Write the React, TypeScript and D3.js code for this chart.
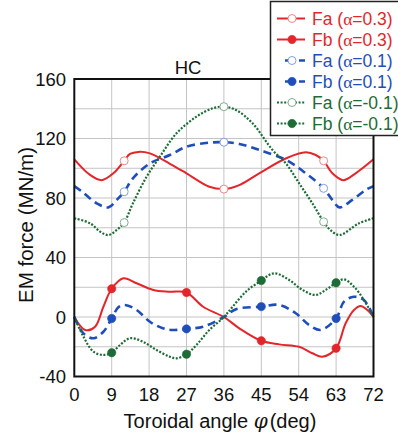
import React, { useEffect, useRef } from 'react';
import * as d3 from 'd3';

// Angles (deg) and values (MN/m)
const faAngles03 = [0, 3.8, 6.6, 9.4, 12, 13.4, 15.4, 18.2, 23, 27, 32.5, 36, 39.7, 44.5, 51, 55.7, 58.1, 60, 62.1, 64.7, 67.7, 72];
const faValues03 = [106, 95.5, 92, 96.6, 105, 109.6, 111, 110, 103, 96.6, 87.6, 86, 88.7, 96.6, 106.7, 110.7, 108.9, 105, 96.6, 92, 96.6, 106];

const faAngles01 = [0, 2, 5.4, 8.2, 10.2, 12, 14.1, 18.2, 23, 27, 32.5, 36, 39.7, 44.5, 51, 55.7, 60, 62.1, 63.8, 66.9, 70.1, 72];
const faValues01 = [88, 84, 76.4, 73.7, 78.7, 84.2, 93.2, 103.3, 108.9, 114.5, 117.2, 117.5, 116.3, 112.3, 105.5, 96.6, 86.5, 78.7, 73.7, 78.7, 85.4, 88];

const faAnglesM01 = [0, 3.8, 6.2, 8.2, 10.2, 12, 14.1, 17.4, 20.6, 24.6, 29.4, 33.3, 36, 38.9, 42.9, 47.7, 50.9, 54.1, 57.3, 60, 61.6, 63.8, 68.5, 72];
const faValuesM01 = [66.4, 63, 57.4, 55.1, 58.5, 63.5, 76.4, 94.3, 107.8, 123.5, 134.7, 140.3, 141.4, 139.2, 130.2, 112.3, 103.3, 89.9, 76.4, 64, 58.5, 55.1, 63, 66.4];

const fbAngles03 = [0, 2.6, 5, 7, 9, 11.8, 15, 19, 23, 27, 31, 36, 39.7, 45, 49.3, 54.1, 57.3, 59.7, 63, 65.3, 67.3, 68.9, 70.5, 72];
const fbValues03 = [0, -8.7, -6.5, 6.9, 19, 26, 22.7, 18.2, 17, 16.5, 6.9, 0, -7.6, -16, -18.4, -20, -24.4, -26.7, -21, -4.2, 4.7, 7.4, 4.7, 0];

const fbAngles01 = [0, 2.2, 4.6, 7, 9, 10.6, 12.2, 15, 18.2, 21.3, 23.7, 27, 31, 36, 38.9, 45, 49.3, 53.3, 56.5, 59.3, 63, 64.9, 67.3, 69.7, 72];
const fbValues01 = [0, -11, -14.3, -9.9, -1, 6.5, 8.1, 4.7, -3.2, -7.6, -8.7, -8, -6.5, 0, 5.2, 7, 8.1, 2.5, -5.4, -8.7, -1, 10.3, 13.6, 11.4, 0];

const fbAnglesM01 = [0, 2.2, 4.6, 7, 9, 11, 13.4, 16.5, 19.8, 23, 24.6, 27, 29.4, 32.5, 36, 38.1, 41.3, 45, 48.1, 51.7, 54.9, 58.1, 60.5, 63, 64.9, 67.3, 69.7, 72];
const fbValuesM01 = [0, -13.2, -23.3, -25.5, -24, -18.8, -14.3, -16.6, -22.2, -26.7, -27.8, -25, -18.8, -8.7, 0, 6.9, 17, 24.5, 29.4, 24.9, 18.2, 14.8, 18.2, 23, 25.3, 20.4, 11.4, 0];

const faMarkerAngles = [12, 36, 60];
const fbMarkerAngles = [9, 27, 45, 63];

const xTicks = [0, 9, 18, 27, 36, 45, 54, 63, 72];
const yTicks = [-40, 0, 40, 80, 120, 160];
const yGrid = [-20, 20, 60, 100, 140];

const RED = '#e3262b';
const BLUE = '#1f4ebb';
const GREEN = '#1d6b36';

const series = [
  { name: 'Fa', alpha: '0.3', angles: faAngles03, values: faValues03, color: RED, dash: null, width: 2, open: true, marks: faMarkerAngles },
  { name: 'Fb', alpha: '0.3', angles: fbAngles03, values: fbValues03, color: RED, dash: null, width: 2, open: false, marks: fbMarkerAngles },
  { name: 'Fa', alpha: '0.1', angles: faAngles01, values: faValues01, color: BLUE, dash: '8,5', width: 2.6, open: true, marks: faMarkerAngles },
  { name: 'Fb', alpha: '0.1', angles: fbAngles01, values: fbValues01, color: BLUE, dash: '8,5', width: 2.6, open: false, marks: fbMarkerAngles },
  { name: 'Fa', alpha: '-0.1', angles: faAnglesM01, values: faValuesM01, color: GREEN, dash: '2,1.6', width: 2.2, open: true, marks: faMarkerAngles },
  { name: 'Fb', alpha: '-0.1', angles: fbAnglesM01, values: fbValuesM01, color: GREEN, dash: '2,1.6', width: 2.2, open: false, marks: fbMarkerAngles },
];

const App: React.FC = () => {
  const svgRef = useRef<SVGSVGElement>(null);

  useEffect(() => {
    if (!svgRef.current) return;
    const svg = d3.select(svgRef.current);
    svg.selectAll('*').remove();

    const font = 'Liberation Sans, Arial, sans-serif';
    const x = d3.scaleLinear().domain([0, 72]).range([74.3, 373.5]);
    const y = d3.scaleLinear().domain([-40, 160]).range([376.5, 79]);

    svg.append('rect').attr('width', 398).attr('height', 439).attr('fill', 'white');

    // Grid
    const grid = svg.append('g').attr('stroke', '#c4c4c4').attr('stroke-width', 1);
    xTicks.slice(1, -1).forEach(t => {
      grid.append('line').attr('x1', x(t)).attr('x2', x(t)).attr('y1', y(160)).attr('y2', y(-40));
    });
    [...yGrid, ...yTicks.slice(1, -1)].forEach(t => {
      grid.append('line').attr('x1', x(0)).attr('x2', x(72)).attr('y1', y(t)).attr('y2', y(t));
    });

    // Curves
    const interp = (s: typeof series[0], a: number) => {
      const i = s.angles.indexOf(a);
      if (i >= 0) return s.values[i];
      return d3.scaleLinear().domain(s.angles).range(s.values)(a);
    };

    series.forEach(s => {
      const pts: [number, number][] = s.angles.map((a, i) => [a, s.values[i]]);
      const line = d3.line<[number, number]>()
        .x(d => x(d[0]))
        .y(d => y(d[1]))
        .curve(d3.curveCatmullRom.alpha(0.5));
      svg.append('path')
        .attr('d', line(pts))
        .attr('fill', 'none')
        .attr('stroke', s.color)
        .attr('stroke-width', s.width)
        .attr('stroke-dasharray', s.dash)
        .attr('stroke-linejoin', 'round');
    });

    series.forEach(s => {
      s.marks.forEach(a => {
        svg.append('circle')
          .attr('cx', x(a))
          .attr('cy', y(interp(s, a)))
          .attr('r', s.open ? 4 : 4.2)
          .attr('fill', s.open ? 'white' : s.color)
          .attr('stroke', s.open ? d3.interpolateRgb(s.color, 'white')(0.45) : s.color)
          .attr('stroke-width', s.open ? 1 : 0.5);
      });
    });

    // Frame
    svg.append('rect')
      .attr('x', x(0)).attr('y', y(160))
      .attr('width', x(72) - x(0)).attr('height', y(-40) - y(160))
      .attr('fill', 'none').attr('stroke', '#111').attr('stroke-width', 2);

    // Tick labels
    yTicks.forEach(t => {
      svg.append('text')
        .attr('x', 66).attr('y', y(t) + 6.5)
        .attr('text-anchor', 'end')
        .attr('font-family', font).attr('font-size', 18.5)
        .attr('fill', '#111')
        .text(t);
    });
    xTicks.forEach(t => {
      svg.append('text')
        .attr('x', x(t)).attr('y', 400.5)
        .attr('text-anchor', 'middle')
        .attr('font-family', font).attr('font-size', 18.5)
        .attr('fill', '#111')
        .text(t);
    });

    // Titles
    svg.append('text')
      .attr('x', 188).attr('y', 74)
      .attr('text-anchor', 'middle')
      .attr('font-family', font).attr('font-size', 18.5)
      .attr('fill', '#111')
      .text('HC');

    const xt = svg.append('text')
      .attr('x', 220).attr('y', 427.5)
      .attr('text-anchor', 'middle')
      .attr('font-family', font).attr('font-size', 20)
      .attr('fill', '#111');
    xt.append('tspan').text('Toroidal angle ');
    xt.append('tspan').attr('font-style', 'italic').attr('font-family', 'DejaVu Serif, serif').text('\u03c6');
    xt.append('tspan').attr('dx', 2).text('(deg)');

    svg.append('text')
      .attr('transform', `translate(33, 225) rotate(-90)`)
      .attr('text-anchor', 'middle')
      .attr('font-family', font).attr('font-size', 20.5)
      .attr('fill', '#111')
      .text('EM force (MN/m)');

    // Legend
    const lg = svg.append('g');
    lg.append('rect')
      .attr('x', 270.5).attr('y', 1.5).attr('width', 140).attr('height', 134)
      .attr('fill', 'white').attr('stroke', '#222').attr('stroke-width', 1.5);
    series.forEach((s, i) => {
      const cy = 18.5 + i * 21;
      const x1 = s.color === BLUE ? 285 : 277;
      lg.append('line')
        .attr('x1', x1).attr('x2', 305).attr('y1', cy).attr('y2', cy)
        .attr('stroke', s.color).attr('stroke-width', s.width)
        .attr('stroke-dasharray', s.color === BLUE ? '6,8' : s.dash);
      lg.append('circle')
        .attr('cx', 292).attr('cy', cy).attr('r', s.open ? 4 : 4.2)
        .attr('fill', s.open ? 'white' : s.color)
        .attr('stroke', s.open ? d3.interpolateRgb(s.color, 'white')(0.45) : s.color)
        .attr('stroke-width', s.open ? 1 : 0.5);
      const t = lg.append('text')
        .attr('x', 312).attr('y', cy + 6)
        .attr('font-family', font).attr('font-size', 17.5)
        .attr('fill', s.color);
      t.append('tspan').text(`${s.name} (`);
      t.append('tspan').attr('font-family', 'Liberation Serif, serif').text('\u03b1');
      t.append('tspan').text(`=${s.alpha})`);
    });
  }, []);

  return (
    <svg
      ref={svgRef}
      width={398}
      height={439}
      style={{ position: 'absolute', left: 0, top: 0 }}
    />
  );
};

export default App;
